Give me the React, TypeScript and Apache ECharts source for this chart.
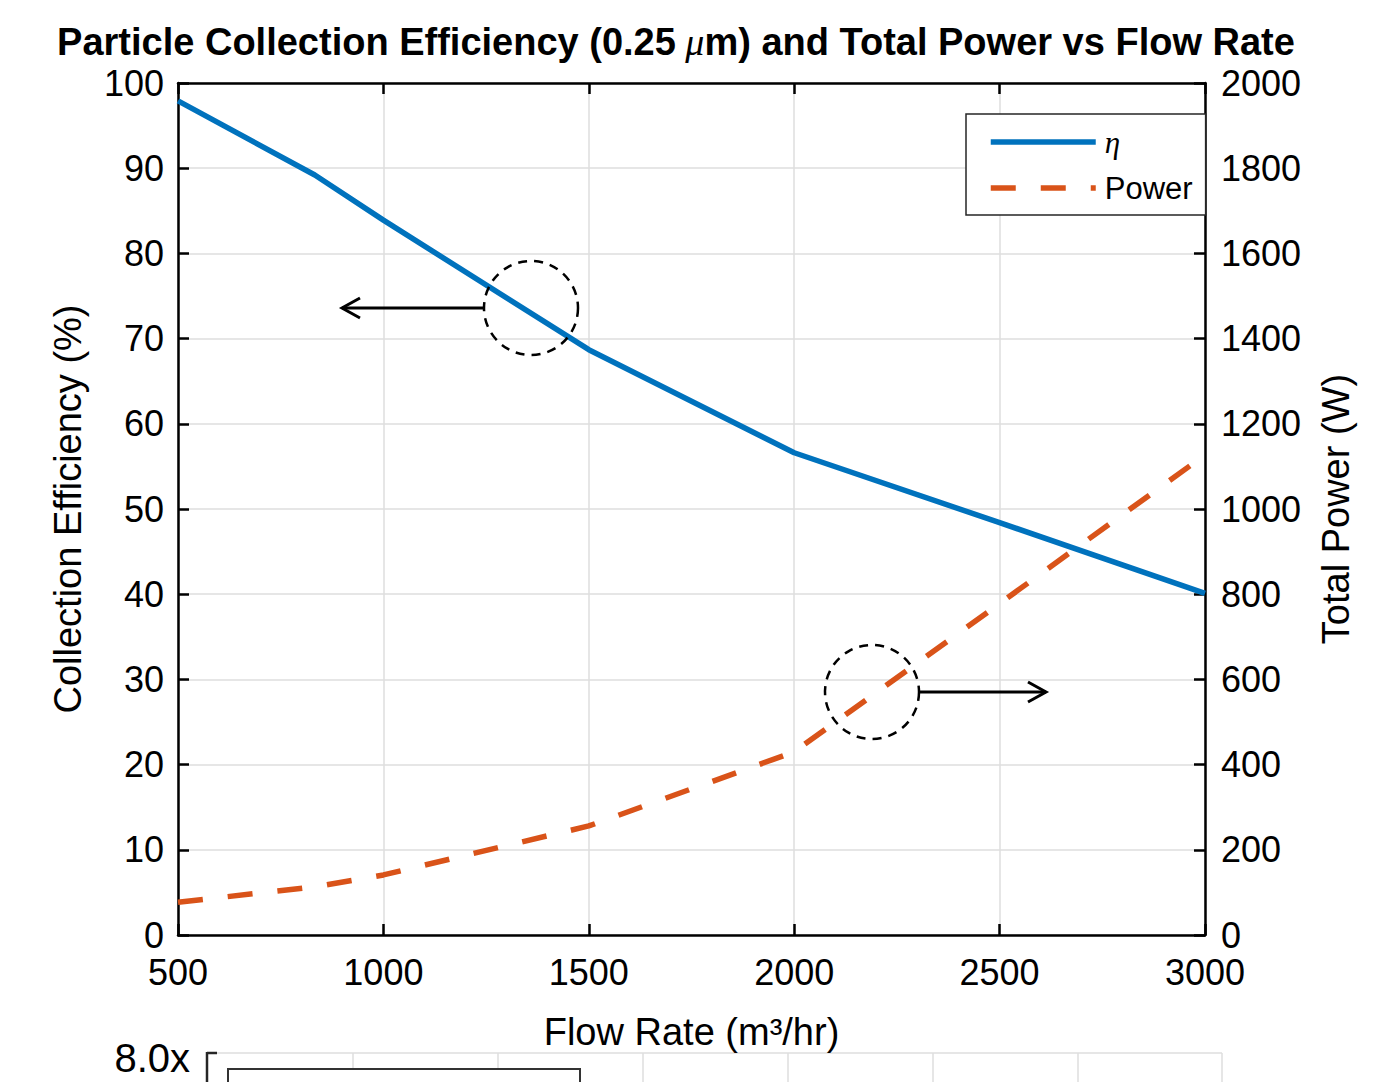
import React, { useEffect, useRef } from "react";
import * as echarts from "echarts";

const flowRate = [500, 833, 1000, 1500, 2000, 2500, 3000];
const efficiency = [97.9, 89.2, 83.9, 68.7, 56.6, 48.4, 40.1];
const power = [77, 113, 141, 256, 430, 778, 1127];
const xTicks = { min: 500, max: 3000, interval: 500 };
const effTicks = { min: 0, max: 100, interval: 10 };
const powTicks = { min: 0, max: 2000, interval: 200 };

const FONT = "Liberation Sans";
const BLUE = "#0072BD";
const ORANGE = "#D95319";

export default function App() {
  const ref = useRef<HTMLDivElement>(null);
  useEffect(() => {
    const chart = echarts.init(ref.current!, null, { renderer: "svg" });
    const tickStyle = { inside: true, length: 11, lineStyle: { color: "#000", width: 2.5 } };
    const axisLine = { show: true, onZero: false, lineStyle: { color: "#000", width: 2.5 } };
    const gridLine = { show: true, lineStyle: { color: "#dedede", width: 1.5 } };
    const plain = (v: number) => String(v);
    const labelStyle = { color: "#000", fontSize: 36, fontFamily: FONT, formatter: plain };
    const nameStyle = { color: "#000", fontSize: 38, fontFamily: FONT };
    const option: any = {
      animation: false,
      backgroundColor: "#fff",
      title: {
        text: "Particle Collection Efficiency (0.25{mu| μ}m) and Total Power vs Flow Rate",
        left: 676,
        top: 23,
        textAlign: "center",
        padding: 0,
        textStyle: {
          fontFamily: FONT,
          fontWeight: "bold",
          fontSize: 38,
          color: "#000",
          rich: {
            mu: { fontFamily: "Liberation Serif", fontStyle: "italic", fontWeight: "normal", fontSize: 38, color: "#000" },
          },
        },
      },
      grid: { left: 178, top: 83, width: 1027, height: 852, containLabel: false, outerBoundsMode: "none" },
      legend: {
        orient: "vertical",
        left: 966,
        top: 114,
        padding: [12, 13, 11, 22],
        itemGap: 14,
        itemWidth: 105,
        itemHeight: 8,
        backgroundColor: "#fff",
        borderColor: "#262626",
        borderWidth: 1.5,
        borderRadius: 0,
        itemStyle: { opacity: 0 },
        lineStyle: { width: 5.5 },
        data: ["η", "Power"],
        formatter: (name: string) => (name === "η" ? "{eta|η}" : name),
        textStyle: {
          fontFamily: FONT,
          fontSize: 31,
          lineHeight: 32,
          color: "#000",
          padding: [0, 0, 0, 4],
          rich: {
            eta: { fontFamily: "Liberation Serif", fontStyle: "italic", fontSize: 31, lineHeight: 32, color: "#000" },
          },
        },
      },
      xAxis: [
        {
          type: "value",
          ...xTicks,
          position: "bottom",
          axisLine,
          axisTick: tickStyle,
          axisLabel: { ...labelStyle, margin: 19 },
          splitLine: gridLine,
          name: "Flow Rate (m³/hr)",
          nameLocation: "middle",
          nameGap: 78,
          nameTextStyle: nameStyle,
        },
        {
          type: "value",
          ...xTicks,
          position: "top",
          axisLine,
          axisTick: tickStyle,
          axisLabel: { show: false },
          splitLine: { show: false },
        },
      ],
      yAxis: [
        {
          type: "value",
          ...effTicks,
          position: "left",
          axisLine,
          axisTick: tickStyle,
          axisLabel: { ...labelStyle, margin: 14 },
          splitLine: gridLine,
          name: "Collection Efficiency (%)",
          nameLocation: "middle",
          nameGap: 91,
          nameTextStyle: nameStyle,
        },
        {
          type: "value",
          ...powTicks,
          position: "right",
          axisLine,
          axisTick: tickStyle,
          axisLabel: { ...labelStyle, margin: 16 },
          splitLine: { show: false },
          name: "Total Power (W)",
          nameLocation: "middle",
          nameGap: 112,
          nameTextStyle: nameStyle,
        },
      ],
      series: [
        {
          name: "η",
          type: "line",
          xAxisIndex: 0,
          yAxisIndex: 0,
          data: flowRate.map((x, i) => [x, efficiency[i]]),
          symbol: "none",
          lineStyle: { color: BLUE, width: 5.5 },
          itemStyle: { color: BLUE },
          z: 3,
        },
        {
          name: "Power",
          type: "line",
          xAxisIndex: 0,
          yAxisIndex: 1,
          data: flowRate.map((x, i) => [x, power[i]]),
          symbol: "none",
          lineStyle: { color: ORANGE, width: 5.5, type: [25, 25], cap: "butt" },
          itemStyle: { color: ORANGE },
          z: 4,
        },
      ],
      graphic: [
        // annotation: efficiency -> left axis
        { type: "circle", shape: { cx: 531, cy: 308, r: 47 }, style: { fill: "none", stroke: "#000", lineWidth: 2.5, lineDash: [9, 7] }, z: 10 },
        { type: "line", shape: { x1: 484, y1: 308, x2: 342, y2: 308 }, style: { stroke: "#000", lineWidth: 3 }, z: 10 },
        { type: "polyline", shape: { points: [[360, 298], [342, 308], [360, 318]] }, style: { stroke: "#000", lineWidth: 3, fill: "none" }, z: 10 },
        // annotation: power -> right axis
        { type: "circle", shape: { cx: 872, cy: 692, r: 47 }, style: { fill: "none", stroke: "#000", lineWidth: 2.5, lineDash: [9, 7] }, z: 10 },
        { type: "line", shape: { x1: 918, y1: 692, x2: 1046, y2: 692 }, style: { stroke: "#000", lineWidth: 3 }, z: 10 },
        { type: "polyline", shape: { points: [[1028, 682], [1046, 692], [1028, 702]] }, style: { stroke: "#000", lineWidth: 3, fill: "none" }, z: 10 },
        // cut-off figure below
        { type: "text", style: { x: 190, y: 1058, text: "8.0x", fontFamily: FONT, fontSize: 40, fill: "#000", align: "right", verticalAlign: "middle" } },
        { type: "line", shape: { x1: 207, y1: 1053, x2: 1222, y2: 1053 }, style: { stroke: "#dedede", lineWidth: 1.5 } },
        ...[353, 498, 643, 788, 933, 1078, 1222].map((x) => ({ type: "line", shape: { x1: x, y1: 1053, x2: x, y2: 1082 }, style: { stroke: "#dedede", lineWidth: 1.5 } })),
        { type: "line", shape: { x1: 207, y1: 1052, x2: 207, y2: 1082 }, style: { stroke: "#262626", lineWidth: 2.5 } },
        { type: "line", shape: { x1: 207, y1: 1053, x2: 217, y2: 1053 }, style: { stroke: "#262626", lineWidth: 2.5 } },
        { type: "rect", shape: { x: 228, y: 1069, width: 352, height: 40 }, style: { fill: "#fff", stroke: "#333", lineWidth: 2 } },
      ],
    };
    chart.setOption(option);
    return () => chart.dispose();
  }, []);
  return <div ref={ref} style={{ position: "fixed", left: 0, top: 0, width: 1384, height: 1082, background: "#fff" }} />;
}
